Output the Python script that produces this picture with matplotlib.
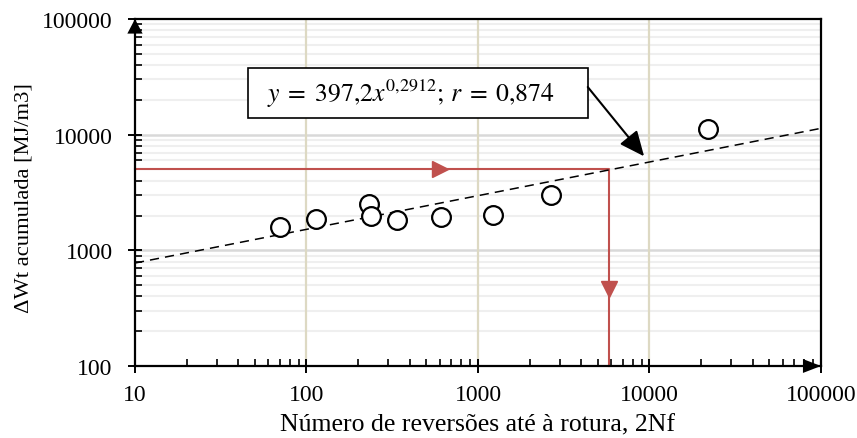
import matplotlib
matplotlib.use("Agg")
import matplotlib.pyplot as plt
from matplotlib.patches import Rectangle
import numpy as np
from matplotlib.ticker import LogLocator, FixedLocator, NullFormatter

# Cumulative strain energy versus reversals to failure
reversals = [70, 113, 233, 239, 337, 609, 1216, 2655, 22000]
energy = [1580, 1880, 2500, 1980, 1830, 1940, 2010, 3000, 11100]

# Power-law fit y = a * x^b
fit_a = 397.2
fit_b = 0.2912
fit_r = 0.874

# Design reading: energy level and the matching number of reversals
design_energy = 5000
design_reversals = 5800

x_ticks = [10, 100, 1000, 10000, 100000]
y_ticks = [100, 1000, 10000, 100000]

plt.rcParams["mathtext.fontset"] = "stix"
serif = "Liberation Serif"
red = "#C0504D"

fig = plt.figure(figsize=(8.57, 4.39), dpi=100)
ax = fig.add_axes([0.1575, 0.164, 0.8005, 0.7904])
ax.set_xscale("log")
ax.set_yscale("log")
ax.set_xlim(10, 100000)
ax.set_ylim(100, 100000)

# grid: light horizontal minor lines, grey majors, tan vertical majors
minor_y = [m * 10 ** e for e in range(2, 5) for m in range(2, 10)]
for yv in minor_y:
    ax.axhline(yv, color="#EFEFEF", lw=1.5, zorder=0)
for yv in [1000, 10000]:
    ax.axhline(yv, color="#D9D9D9", lw=1.8, zorder=0)
for xv in [100, 1000, 10000]:
    ax.axvline(xv, color="#DDD9C3", lw=1.6, zorder=0.5)

# fitted line
xf = np.logspace(1, 5, 200)
ax.plot(xf, fit_a * xf ** fit_b, color="black", lw=1.1, ls=(0, (6, 4)), zorder=3)

# data points
ax.plot(reversals, energy, ls="none", marker="o", ms=13.5, mfc="white",
        mec="black", mew=1.6, zorder=4)

# red design path
ax.plot([10, design_reversals, design_reversals],
        [design_energy, design_energy, 100], color=red, lw=1.5, zorder=2,
        clip_on=False)
ax.plot([600], [design_energy], marker=">", ms=11, color=red, zorder=2)
ax.plot([design_reversals], [460], marker="v", ms=11, color=red, zorder=2)

# equation box with arrow to the fitted line
box = Rectangle((0.1647, 0.7147), 0.4953, 0.1441, transform=ax.transAxes,
                fc="white", ec="black", lw=1.2, zorder=6)
ax.add_patch(box)
eq = (r"$y\;=\;397{,}2x^{0{,}2912};\,r\;=\;" + f"{fit_r:.3f}".replace(".", "{,}")
      + r"$")
ax.text(0.1924, 0.787, eq, transform=ax.transAxes, ha="left", va="center",
        fontsize=18.5, zorder=7)
ax.annotate("", xy=(9300, 6500), xytext=(0.660, 0.804),
            textcoords="axes fraction", xycoords="data",
            arrowprops=dict(arrowstyle="-|>,head_length=0.9,head_width=0.4",
                            color="black", lw=1.5, shrinkA=0, shrinkB=0,
                            mutation_scale=17),
            zorder=6)

# axes frame
for s in ax.spines.values():
    s.set_color("black")
    s.set_linewidth(1.6)

ax.xaxis.set_major_locator(FixedLocator(x_ticks))
ax.yaxis.set_major_locator(FixedLocator(y_ticks))
ax.xaxis.set_minor_locator(LogLocator(base=10, subs=np.arange(2, 10)))
ax.yaxis.set_minor_locator(LogLocator(base=10, subs=np.arange(2, 10)))
ax.xaxis.set_minor_formatter(NullFormatter())
ax.yaxis.set_minor_formatter(NullFormatter())
ax.set_xticklabels([str(v) for v in x_ticks])
ax.set_yticklabels([str(v) for v in y_ticks])
ax.tick_params(which="major", direction="inout", length=10, width=1.4,
               labelsize=17)
ax.tick_params(axis="x", which="major", pad=8)
ax.tick_params(axis="y", which="major", pad=11)
ax.tick_params(which="minor", direction="in", length=5, width=1.2)
for lab in ax.get_xticklabels() + ax.get_yticklabels():
    lab.set_family(serif)

# arrowheads at the end of the axes
ax.annotate("", xy=(0, 1.0), xytext=(0, 0.94), xycoords="axes fraction",
            arrowprops=dict(arrowstyle="-|>,head_length=1.05,head_width=0.55",
                            color="black", lw=0, shrinkA=0, shrinkB=0),
            annotation_clip=False, zorder=7)
ax.annotate("", xy=(1.0, 0), xytext=(0.96, 0), xycoords="axes fraction",
            arrowprops=dict(arrowstyle="-|>,head_length=1.3,head_width=0.5",
                            color="black", lw=0, shrinkA=0, shrinkB=0),
            annotation_clip=False, zorder=7)

ax.set_xlabel("Número de reversões até à rotura, 2Nf", family=serif,
              fontsize=18.5, labelpad=6)
ax.set_ylabel("ΔWt acumulada [MJ/m3]", family=serif, fontsize=16.2, labelpad=8)
ax.yaxis.set_label_coords(-0.148, 0.487)

fig.savefig("out.png", dpi=100)
